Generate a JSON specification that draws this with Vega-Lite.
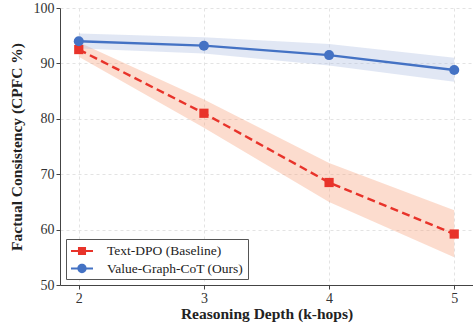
{
  "$schema": "https://vega.github.io/schema/vega-lite/v6.json",
  "width": 413,
  "height": 277,
  "autosize": {"type": "none"},
  "padding": {"left": 60, "top": 8, "right": 0, "bottom": 41},
  "config": {
    "font": "Liberation Serif",
    "view": {"stroke": null},
    "axis": {
      "labelFont": "Liberation Serif",
      "titleFont": "Liberation Serif",
      "labelFontSize": 14,
      "titleFontSize": 15.5,
      "titleFontWeight": "bold",
      "labelColor": "#333",
      "titleColor": "#222",
      "domainColor": "#444",
      "tickColor": "#444",
      "tickSize": 4,
      "labelPadding": 2,
      "gridColor": "#e3e3e3",
      "gridDash": [3, 3]
    },
    "legend": {
      "labelFont": "Liberation Serif", "labelFontSize": 13.5, "labelColor": "#222",
      "labelOffset": 17, "rowPadding": 2.5, "padding": 4, "symbolOffset": 4,
      "symbolSize": 240, "symbolOpacity": 1, "symbolStrokeWidth": 0,
      "strokeColor": "#555", "fillColor": "white", "cornerRadius": 0
    }
  },
  "data": {
    "values": [
      {"k": 2, "v": 92.5, "lo": 91.2, "hi": 93.8, "series": "Text-DPO (Baseline)"},
      {"k": 3, "v": 81.0, "lo": 78.4, "hi": 83.5, "series": "Text-DPO (Baseline)"},
      {"k": 4, "v": 68.5, "lo": 65.0, "hi": 72.0, "series": "Text-DPO (Baseline)"},
      {"k": 5, "v": 59.2, "lo": 55.0, "hi": 63.5, "series": "Text-DPO (Baseline)"},
      {"k": 2, "v": 94.0, "lo": 92.7, "hi": 95.4, "series": "Value-Graph-CoT (Ours)"},
      {"k": 3, "v": 93.2, "lo": 91.8, "hi": 94.7, "series": "Value-Graph-CoT (Ours)"},
      {"k": 4, "v": 91.5, "lo": 89.6, "hi": 93.5, "series": "Value-Graph-CoT (Ours)"},
      {"k": 5, "v": 88.8, "lo": 86.7, "hi": 91.0, "series": "Value-Graph-CoT (Ours)"}
    ]
  },
  "encoding": {
    "x": {
      "field": "k", "type": "quantitative",
      "scale": {"domain": [1.85, 5.15], "nice": false, "zero": false},
      "axis": {"values": [2, 3, 4, 5], "title": "Reasoning Depth (k-hops)", "format": "d", "titlePadding": 1}
    }
  },
  "layer": [
    {
      "transform": [{"filter": "datum.series === 'Text-DPO (Baseline)'"}],
      "mark": {"type": "area", "opacity": 0.35, "color": "#f59a72"},
      "encoding": {
        "y": {"field": "lo", "type": "quantitative",
          "scale": {"domain": [50, 100], "nice": false, "zero": false},
          "axis": {"values": [50, 60, 70, 80, 90, 100], "title": "Factual Consistency (CPFC %)", "titlePadding": 9}},
        "y2": {"field": "hi"}
      }
    },
    {
      "transform": [{"filter": "datum.series === 'Value-Graph-CoT (Ours)'"}],
      "mark": {"type": "area", "opacity": 0.35, "color": "#a9b9e0"},
      "encoding": {
        "y": {"field": "lo", "type": "quantitative"},
        "y2": {"field": "hi"}
      }
    },
    {
      "transform": [{"filter": "datum.series === 'Text-DPO (Baseline)'"}],
      "mark": {"type": "line", "strokeWidth": 2.4, "color": "#e8332a", "strokeDash": [8, 4.5]},
      "encoding": {"y": {"field": "v", "type": "quantitative"}}
    },
    {
      "transform": [{"filter": "datum.series === 'Value-Graph-CoT (Ours)'"}],
      "mark": {"type": "line", "strokeWidth": 2.4, "color": "#4472c4"},
      "encoding": {"y": {"field": "v", "type": "quantitative"}}
    },
    {
      "mark": {"type": "point", "filled": true, "opacity": 0},
      "encoding": {
        "y": {"field": "v", "type": "quantitative"},
        "shape": {"field": "series", "type": "nominal",
          "scale": {"domain": ["Text-DPO (Baseline)", "Value-Graph-CoT (Ours)"],
            "range": ["M-1.42,-0.13 L1.42,-0.13 L1.42,0.13 L-1.42,0.13 Z M-0.52,-0.52 L0.52,-0.52 L0.52,0.52 L-0.52,0.52 Z",
                      "M-1.42,-0.13 L1.42,-0.13 L1.42,0.13 L-1.42,0.13 Z M-0.6,0 A0.6,0.6 0 1,1 0.6,0 A0.6,0.6 0 1,1 -0.6,0 Z"]},
          "legend": {"title": null, "orient": "none", "legendX": 6, "legendY": 231}
        },
        "color": {"field": "series", "type": "nominal",
          "scale": {"domain": ["Text-DPO (Baseline)", "Value-Graph-CoT (Ours)"], "range": ["#e8332a", "#4472c4"]},
          "legend": {"title": null, "orient": "none", "legendX": 6, "legendY": 231}}
      }
    },
    {
      "transform": [{"filter": "datum.series === 'Text-DPO (Baseline)'"}],
      "mark": {"type": "point", "shape": "square", "filled": true, "opacity": 1, "size": 85, "color": "#e8332a"},
      "encoding": {"y": {"field": "v", "type": "quantitative"}}
    },
    {
      "transform": [{"filter": "datum.series === 'Value-Graph-CoT (Ours)'"}],
      "mark": {"type": "point", "shape": "circle", "filled": true, "opacity": 1, "size": 100, "color": "#4472c4"},
      "encoding": {"y": {"field": "v", "type": "quantitative"}}
    }
  ]
}
